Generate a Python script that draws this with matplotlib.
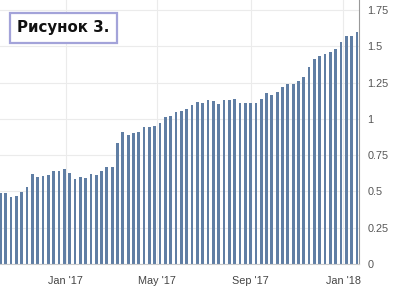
#!/usr/bin/python3
#
# Weekly bar chart, "Рисунок 3."

import numpy as np
import matplotlib
matplotlib.use('Agg')
import matplotlib.pyplot as plt
import matplotlib.dates as mdates
from datetime import datetime, timedelta

#
start_date = datetime(2016, 10, 7)

values = [0.486, 0.489, 0.462, 0.469, 0.496, 0.531, 0.620, 0.600, 0.606, 0.613,
		  0.641, 0.641, 0.655, 0.627, 0.586, 0.600, 0.593, 0.620, 0.613, 0.641,
		  0.668, 0.668, 0.836, 0.910, 0.891, 0.903, 0.910, 0.944, 0.944, 0.953,
		  0.972, 1.013, 1.022, 1.048, 1.054, 1.068, 1.096, 1.116, 1.110, 1.130,
		  1.123, 1.103, 1.130, 1.130, 1.137, 1.110, 1.110, 1.110, 1.110, 1.137,
		  1.178, 1.165, 1.185, 1.220, 1.240, 1.240, 1.261, 1.289, 1.358, 1.413,
		  1.433, 1.447, 1.461, 1.482, 1.530, 1.571, 1.571, 1.599]

dates = [start_date + timedelta(weeks=i) for i in range(len(values))]

y_ticks = [0, 0.25, 0.5, 0.75, 1, 1.25, 1.5, 1.75]
y_labels = ['0', '0.25', '0.5', '0.75', '1', '1.25', '1.5', '1.75']

x_ticks = [datetime(2017, 1, 1), datetime(2017, 5, 1), datetime(2017, 9, 1), datetime(2018, 1, 1)]
x_labels = ["Jan '17", "May '17", "Sep '17", "Jan '18"]

title = 'Рисунок 3.'

bar_color = '#607ea4'
grid_color = '#ebebeb'

#
fig = plt.figure(figsize=(4.07, 2.99), dpi=100)
ax = fig.add_axes([0.0, 1 - 264 / 299, 359 / 407, 264 / 299])

ax.bar(dates, values, width=3.6, color=bar_color, zorder=2)

ax.set_xlim(dates[0] - timedelta(days=0.5), dates[-1] + timedelta(days=2.6))
ax.set_ylim(0, 1.819)

# Right-hand y axis
ax.yaxis.tick_right()
ax.set_yticks(y_ticks)
ax.set_yticklabels(y_labels, fontsize=7.8, color='#555555', family='Liberation Sans')
ax.tick_params(axis='y', length=0, pad=6)

ax.set_xticks(x_ticks)
ax.set_xticklabels(x_labels, fontsize=7.8, color='#444444', family='Liberation Sans')
ax.tick_params(axis='x', length=0, pad=9)

ax.grid(True, color=grid_color, linewidth=0.8, zorder=0)
ax.set_axisbelow(True)

for s in ['top', 'left']:
	ax.spines[s].set_visible(False)
ax.spines['right'].set_color('#999999')
ax.spines['right'].set_linewidth(0.8)
ax.spines['bottom'].set_color('#cccccc')
ax.spines['bottom'].set_linewidth(0.8)

# Title box
fig.text(17 / 407, 1 - 27.5 / 299, title, fontsize=10.8, fontweight='bold',
		 ha='left', va='center', color='#111111',
		 bbox=dict(boxstyle='square,pad=0.5', facecolor='white', edgecolor='#a3a3d9', linewidth=1.6))

fig.savefig('out.png', dpi=100)
